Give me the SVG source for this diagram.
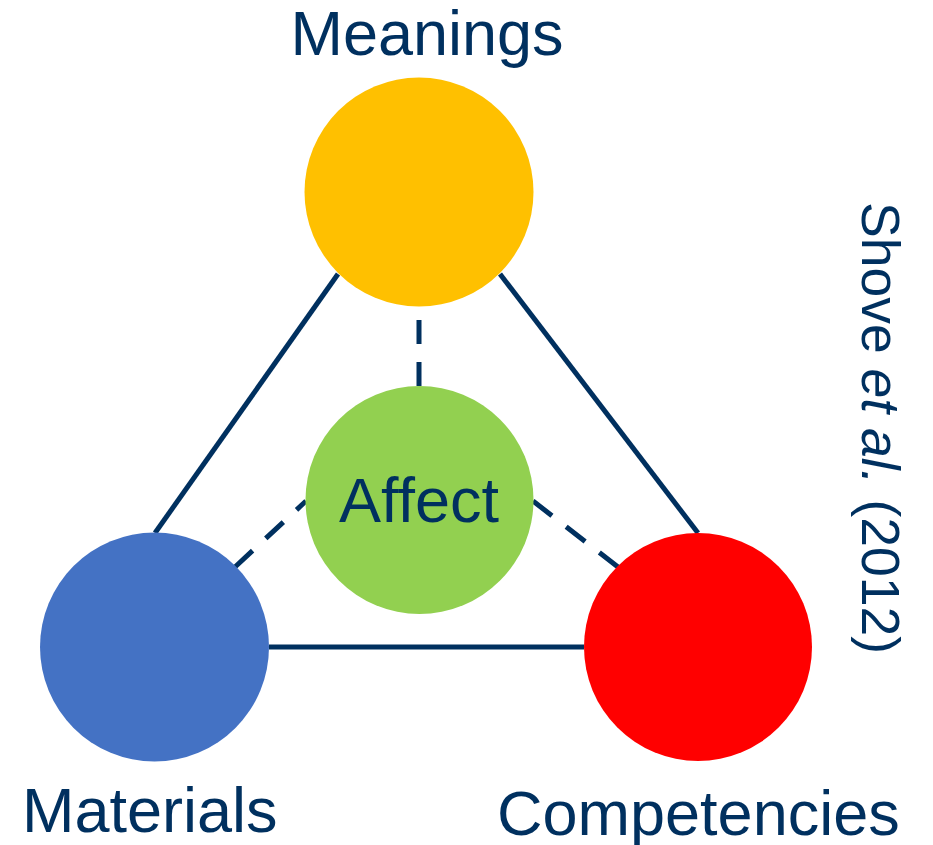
<svg xmlns="http://www.w3.org/2000/svg" width="933" height="845" viewBox="0 0 933 845">
<style>
.lbl{font-family:"Liberation Sans",Arial,sans-serif;font-size:63px;fill:#00305F}
.edge{stroke:#00305F;stroke-width:5;fill:none}
.dash{stroke-dasharray:24 18}
</style>
<rect width="933" height="845" fill="#FFFFFF"/>
<g id="connectors">
<line class="edge" x1="338" y1="274" x2="155" y2="533"/>
<line class="edge" x1="500" y1="274" x2="698" y2="533"/>
<line class="edge" x1="269" y1="647" x2="584" y2="647"/>
<line class="edge dash" x1="419" y1="386" x2="419" y2="307"/>
<line class="edge dash" x1="235" y1="567" x2="306" y2="501"/>
<line class="edge dash" x1="533" y1="501" x2="618" y2="567"/>
</g>
<g id="meanings">
<circle cx="419" cy="192" r="114.5" fill="#FFC000"/>
<text class="lbl" x="427" y="55" text-anchor="middle">Meanings</text>
</g>
<g id="affect">
<circle cx="419.5" cy="500" r="114" fill="#92D050"/>
<text class="lbl" x="419" y="522" text-anchor="middle">Affect</text>
</g>
<g id="materials">
<circle cx="154.5" cy="647" r="114.5" fill="#4472C4"/>
<text class="lbl" x="22" y="832">Materials</text>
</g>
<g id="competencies">
<circle cx="698" cy="647" r="114" fill="#FF0000"/>
<text class="lbl" x="497" y="835">Competencies</text>
</g>
<g id="citation">
<text class="lbl" style="font-size:53.5px" transform="translate(862,202) rotate(90)">Shove <tspan font-style="italic">et al.</tspan> (2012)</text>
</g>
</svg>
